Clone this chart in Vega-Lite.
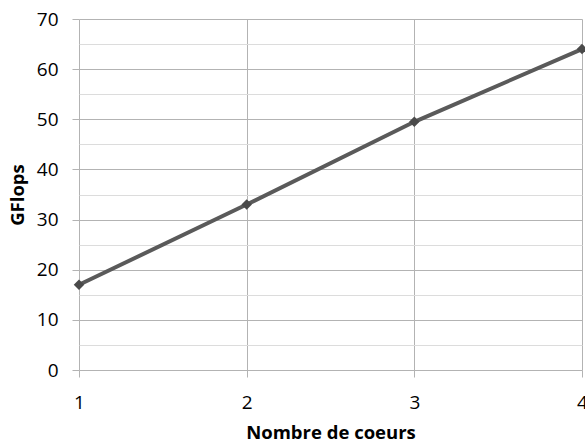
{
  "$schema": "https://vega.github.io/schema/vega-lite/v6.json",
  "width": 503,
  "height": 351,
  "autosize": {"type": "none"},
  "padding": {"left": 79, "top": 19, "right": 3, "bottom": 72},
  "background": "white",
  "config": {
    "view": {"stroke": null},
    "font": "Open Sans"
  },
  "data": {"values": [
    {"cores": 1, "gflops": 17},
    {"cores": 2, "gflops": 33},
    {"cores": 3, "gflops": 49.5},
    {"cores": 4, "gflops": 64}
  ]},
  "encoding": {
    "x": {
      "field": "cores", "type": "quantitative",
      "scale": {"domain": [1, 4], "nice": false},
      "axis": {
        "title": "Nombre de coeurs",
        "values": [1, 2, 3, 4], "format": "d", "labelFlush": false,
        "domain": false, "grid": true, "gridColor": "#b3b3b3", "gridWidth": 1,
        "tickColor": "#b3b3b3", "tickSize": 7,
        "labelFont": "Open Sans", "labelFontSize": 19, "labelColor": "#000", "labelPadding": 16,
        "titleFont": "Open Sans", "titleFontSize": 18.5, "titleFontWeight": "bold", "titleColor": "#000", "titlePadding": 11
      }
    },
    "y": {
      "field": "gflops", "type": "quantitative",
      "scale": {"domain": [0, 70], "nice": false},
      "axis": {
        "title": "GFlops",
        "values": [0, 5, 10, 15, 20, 25, 30, 35, 40, 45, 50, 55, 60, 65, 70],
        "labelExpr": "datum.value % 10 === 0 ? datum.label : ''",
        "domain": false, "grid": true,
        "gridColor": {"condition": {"test": "datum.value % 10 === 0", "value": "#b3b3b3"}, "value": "#dcdcdc"},
        "tickColor": {"condition": {"test": "datum.value % 10 === 0", "value": "#b3b3b3"}, "value": "transparent"},
        "tickSize": 7,
        "labelFont": "Open Sans", "labelFontSize": 19, "labelColor": "#000", "labelPadding": 14,
        "titleFont": "Open Sans", "titleFontSize": 18.5, "titleFontWeight": "bold", "titleColor": "#000", "titlePadding": 9
      }
    }
  },
  "layer": [
    {"mark": {"type": "line", "color": "#5a5a5a", "strokeWidth": 4, "clip": false}},
    {"mark": {"type": "point", "shape": "diamond", "filled": true, "color": "#4a4a4a", "size": 110, "opacity": 1, "clip": false}}
  ]
}
